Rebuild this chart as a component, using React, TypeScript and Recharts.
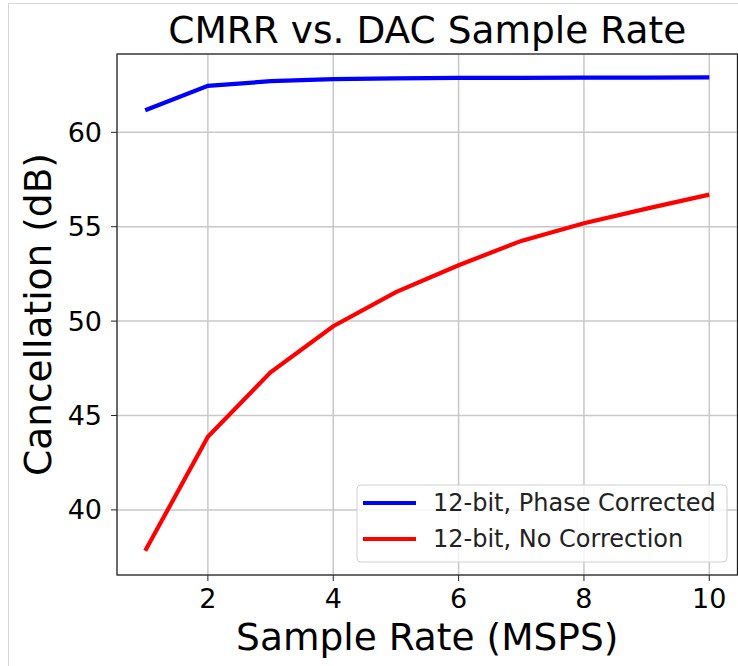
import { LineChart, Line, XAxis, YAxis, CartesianGrid, Label, usePlotArea } from 'recharts';

const sampleRates = [1, 2, 3, 4, 5, 6, 7, 8, 9, 10];
const phaseCorrected = [61.17, 62.46, 62.71, 62.82, 62.86, 62.88, 62.89, 62.9, 62.9, 62.91];
const noCorrection = [37.83, 43.87, 47.29, 49.73, 51.54, 52.96, 54.25, 55.18, 55.96, 56.7];
const xTicks = [2, 4, 6, 8, 10];
const yTicks = [40, 45, 50, 55, 60];
const seriesNames = ['12-bit, Phase Corrected', '12-bit, No Correction'];
const seriesColors = ['#0000ff', '#ff0000'];

const data = sampleRates.map((rate, i) => ({
    rate,
    corrected: phaseCorrected[i],
    uncorrected: noCorrection[i],
}));

const FONT = 'DejaVu Sans, sans-serif';

// title, frame and legend drawn relative to the plot area
const Overlay = () => {
    const area = usePlotArea();
    if (!area) return null;
    const { x, y, width, height } = area;
    const boxW = 370;
    const boxH = 77;
    const bx = x + width - 10.5 - boxW;
    const by = y + height - 13 - boxH;
    return (
        <g>
            <rect x={x} y={y} width={width} height={height} fill="none" stroke="#222" strokeWidth={1.2} />
            <text x={x + width / 2} y={y - 11} textAnchor="middle" fontSize={37.5} fontFamily={FONT} fill="#000">
                CMRR vs. DAC Sample Rate
            </text>
            <rect x={bx} y={by} width={boxW} height={boxH} rx={4} fill="#fff" fillOpacity={0.8} stroke="#d0d0d0" strokeWidth={1} />
            {seriesNames.map((name, i) => {
                const ly = by + 18 + i * 36;
                return (
                    <g key={name}>
                        <line x1={bx + 6} x2={bx + 59} y1={ly} y2={ly} stroke={seriesColors[i]} strokeWidth={4} />
                        <text x={bx + 76} y={ly} dominantBaseline="central" fontSize={24} fontFamily={FONT} fill="#222">
                            {name}
                        </text>
                    </g>
                );
            })}
        </g>
    );
};

const App = () => {
    return (
        <div style={{ position: 'absolute', left: 0, top: 0, width: 738, height: 666, overflow: 'hidden', background: '#fff' }}>
            <div style={{ position: 'absolute', left: 8, top: 3, right: -10, bottom: -10, borderLeft: '1px solid #d6d6d6', borderTop: '1px solid #d6d6d6' }} />
            <div style={{ position: 'absolute', left: 0, top: 0 }}>
                <LineChart width={738} height={666} data={data} margin={{ top: 54, right: 0.5, left: 0, bottom: 0 }}>
                    <CartesianGrid stroke="#c8c8c8" strokeWidth={1.5} />
                    <XAxis
                        dataKey="rate"
                        type="number"
                        domain={[0.55, 10.45]}
                        ticks={xTicks}
                        allowDataOverflow
                        height={91}
                        axisLine={false}
                        tickSize={6}
                        tickMargin={8}
                        tickLine={{ stroke: '#222' }}
                        tick={{ fontSize: 27, fill: '#000', fontFamily: FONT }}
                    >
                        <Label
                            content={({ viewBox }: any) => (
                                <text
                                    x={viewBox.x + viewBox.width / 2}
                                    y={viewBox.y + 75}
                                    textAnchor="middle"
                                    fontSize={37.5}
                                    fontFamily={FONT}
                                    fill="#000"
                                >
                                    Sample Rate (MSPS)
                                </text>
                            )}
                        />
                    </XAxis>
                    <YAxis
                        type="number"
                        domain={[36.55, 64.15]}
                        ticks={yTicks}
                        allowDataOverflow
                        width={117}
                        axisLine={false}
                        tickSize={6}
                        tickMargin={9}
                        tickLine={{ stroke: '#222' }}
                        tick={{ fontSize: 27, fill: '#000', fontFamily: FONT }}
                    >
                        <Label
                            content={({ viewBox }: any) => {
                                const cx = viewBox.x + 38;
                                const cy = viewBox.y + viewBox.height / 2;
                                return (
                                    <text
                                        x={cx}
                                        y={cy}
                                        transform={`rotate(-90 ${cx} ${cy})`}
                                        textAnchor="middle"
                                        dominantBaseline="central"
                                        fontSize={37.5}
                                        fontFamily={FONT}
                                        fill="#000"
                                    >
                                        Cancellation (dB)
                                    </text>
                                );
                            }}
                        />
                    </YAxis>
                    <Line type="linear" dataKey="corrected" name={seriesNames[0]} stroke={seriesColors[0]} strokeWidth={4.2} dot={false} isAnimationActive={false} />
                    <Line type="linear" dataKey="uncorrected" name={seriesNames[1]} stroke={seriesColors[1]} strokeWidth={4.2} dot={false} isAnimationActive={false} />
                    <Overlay />
                </LineChart>
            </div>
        </div>
    );
};

export default App;
